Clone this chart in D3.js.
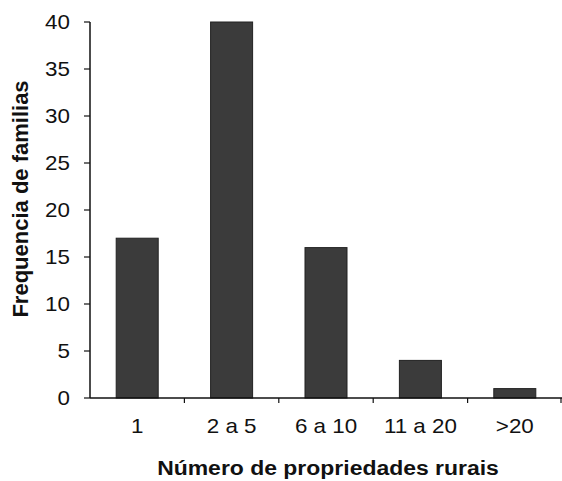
<!DOCTYPE html>
<html>
<head>
<meta charset="utf-8">
<script src="https://cdn.jsdelivr.net/npm/d3@7"></script>
<style>
  body { margin: 0; background: #fff; }
  text { font-family: Arial, "Liberation Sans", sans-serif; fill: #111; }
  .tick-label { font-size: 20px; }
  .title { font-size: 20.5px; font-weight: bold; }
  .title-y { font-size: 22px; font-weight: bold; }
</style>
</head>
<body>
<div id="chart"></div>
<script>
const categories = ["1", "2 a 5", "6 a 10", "11 a 20", ">20"];
const values = [17, 40, 16, 4, 1];
const yTicks = [0, 5, 10, 15, 20, 25, 30, 35, 40];

const width = 562;
const height = 481;
const plotLeft = 90, plotRight = 562, plotTop = 22, plotBottom = 398;
const stretch = 1.12; // texto horizontal um pouco esticado

const svg = d3.select("#chart")
  .append("svg")
  .attr("width", width)
  .attr("height", height);

const x = d3.scaleBand()
  .domain(categories)
  .range([plotLeft, plotRight])
  .paddingInner(0.555)
  .paddingOuter(0.555 / 2);

const y = d3.scaleLinear()
  .domain([0, 40])
  .range([plotBottom, plotTop]);

function hText(cls, px, py, anchor, txt) {
  return svg.append("text")
    .attr("class", cls)
    .attr("transform", `translate(${px},${py}) scale(${stretch},1)`)
    .attr("text-anchor", anchor)
    .text(txt);
}

// barras
svg.selectAll(".bar")
  .data(values)
  .join("rect")
  .attr("class", "bar")
  .attr("x", (d, i) => x(categories[i]))
  .attr("y", d => y(d))
  .attr("width", x.bandwidth())
  .attr("height", d => plotBottom - y(d))
  .attr("fill", "#3b3b3b")
  .attr("stroke", "#222")
  .attr("stroke-width", 1);

// eixo Y
svg.append("line")
  .attr("x1", plotLeft).attr("x2", plotLeft)
  .attr("y1", plotTop).attr("y2", plotBottom)
  .attr("stroke", "#111").attr("stroke-width", 1.5);

yTicks.forEach(t => {
  svg.append("line")
    .attr("x1", plotLeft - 6).attr("x2", plotLeft)
    .attr("y1", y(t)).attr("y2", y(t))
    .attr("stroke", "#111").attr("stroke-width", 1.2);
  hText("tick-label", plotLeft - 20, y(t) + 7, "end", t);
});

// eixo X
svg.append("line")
  .attr("x1", plotLeft).attr("x2", plotRight)
  .attr("y1", plotBottom).attr("y2", plotBottom)
  .attr("stroke", "#111").attr("stroke-width", 1.5);

const step = x.step();
categories.forEach((c, i) => {
  const tx = Math.min(plotLeft + step * (i + 1), plotRight - 1);
  svg.append("line")
    .attr("x1", tx).attr("x2", tx)
    .attr("y1", plotBottom).attr("y2", plotBottom + 5)
    .attr("stroke", "#111").attr("stroke-width", 1.2);
  hText("tick-label", x(c) + x.bandwidth() / 2, 433, "middle", c);
});

// títulos
hText("title", 328, 475, "middle", "Número de propriedades rurais");

svg.append("text")
  .attr("class", "title-y")
  .attr("transform", "translate(28, 199) rotate(-90)")
  .attr("text-anchor", "middle")
  .text("Frequencia de familias");
</script>
</body>
</html>
